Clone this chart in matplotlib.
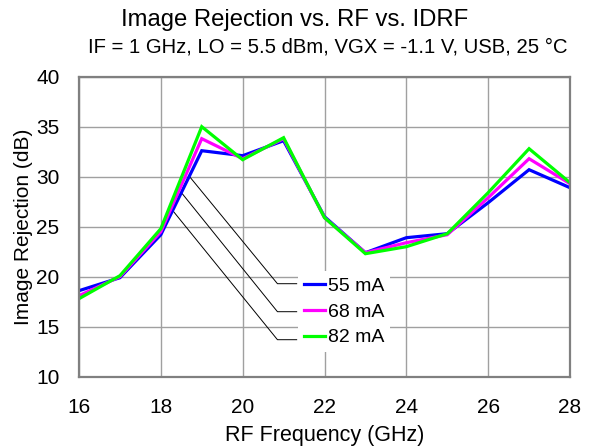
import matplotlib.pyplot as plt

plt.rcParams['font.family'] = ['Liberation Sans', 'DejaVu Sans']

# RF sweep (GHz) and image rejection (dB) for each IDRF setting
freq = [16, 17, 18, 19, 20, 21, 22, 23, 24, 25, 26, 27, 28]
ir_55 = [18.6, 19.9, 24.2, 32.6, 32.1, 33.6, 26.0, 22.4, 23.9, 24.3, 27.4, 30.7, 28.9]
ir_68 = [18.1, 20.0, 24.5, 33.8, 31.8, 33.8, 25.9, 22.4, 23.4, 24.2, 27.9, 31.8, 29.3]
ir_82 = [17.8, 20.1, 24.8, 35.0, 31.7, 33.9, 25.9, 22.3, 23.0, 24.3, 28.4, 32.8, 29.4]

labels = ['55 mA', '68 mA', '82 mA']
colors = ['#0000ff', '#ff00ff', '#00ff00']

# leader line anchors: point on the curve, elbow, end at the legend
leader_start = [(18.71, 29.97), (18.51, 28.37), (18.22, 26.97)]
leader_elbow_x = 20.85
leader_end_x = 21.32
leader_y = [19.3, 16.5, 13.7]

fig = plt.figure(figsize=(5.93, 4.47), dpi=100)
ax = fig.add_axes([79 / 593, 1 - 376.7 / 447, 491 / 593, 300 / 447])

for ys, lab, c in zip([ir_55, ir_68, ir_82], labels, colors):
    ax.plot(freq, ys, color=c, lw=2.3, label=lab, solid_joinstyle='miter')

for (x0, y0), yl in zip(leader_start, leader_y):
    ax.plot([x0, leader_elbow_x, leader_end_x], [y0, yl, yl],
            color='black', lw=0.7, zorder=1)

ax.set_xlim(16, 28)
ax.set_ylim(10, 40)
ax.set_xticks(range(16, 29, 2))
ax.set_yticks(range(10, 41, 5))
ax.grid(True, color='#a0a0a0', lw=1)
ax.set_axisbelow(True)
for s in ax.spines.values():
    s.set_color('#808080')
    s.set_linewidth(1.6)
ax.tick_params(length=0, labelsize=15)
ax.tick_params(axis='x', pad=15)
ax.tick_params(axis='y', pad=14)

ax.set_xlabel('RF Frequency (GHz)', fontsize=15.5, labelpad=6)
ax.set_ylabel('Image Rejection (dB)', fontsize=15, labelpad=2)

fig.text(0.497, 0.955, 'Image Rejection vs. RF vs. IDRF', ha='center', va='center', fontsize=17.2)
fig.text(0.553, 0.895, 'IF = 1 GHz, LO = 5.5 dBm, VGX = -1.1 V, USB, 25 °C',
         ha='center', va='center', fontsize=14.6)

leg = ax.legend(loc='center left', bbox_to_anchor=(0.446, 0.216), fontsize=14,
                handlelength=1.1, handletextpad=0.15, labelspacing=0.42,
                borderpad=0.3, borderaxespad=0, frameon=True, fancybox=False)
leg.get_frame().set_edgecolor('none')
leg.get_frame().set_facecolor('white')
leg.get_frame().set_alpha(1)

fig.savefig('out.png', dpi=100)
